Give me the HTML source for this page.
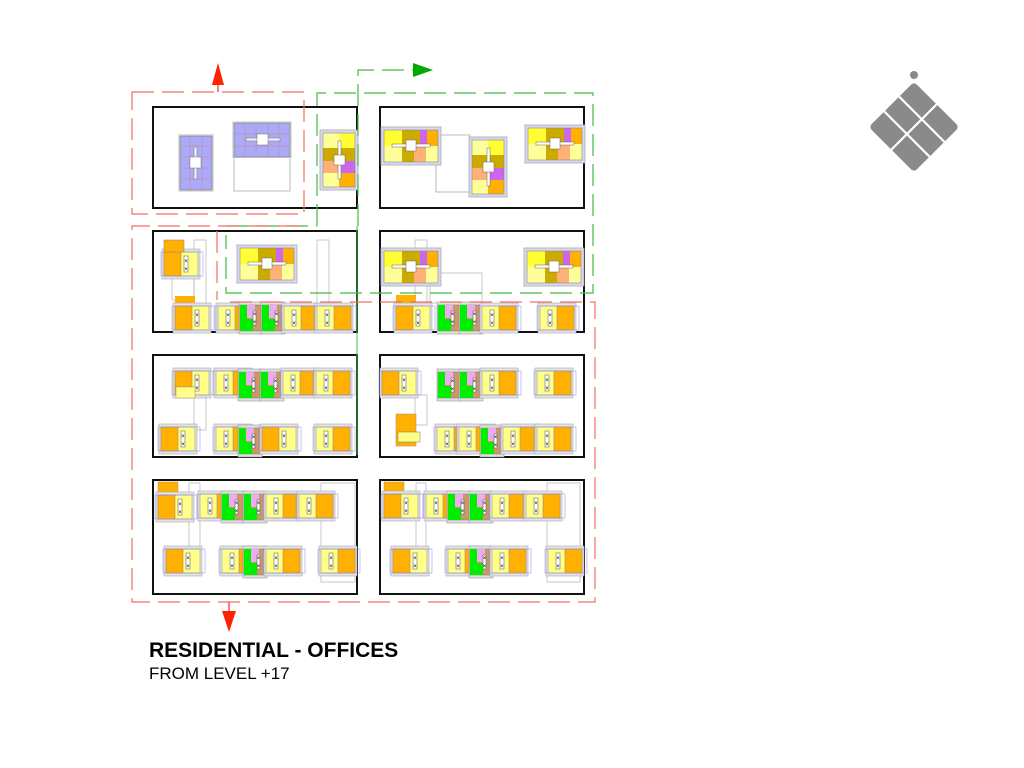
<!DOCTYPE html>
<html><head><meta charset="utf-8"><style>
html,body{margin:0;padding:0;background:#fff;}
svg{display:block}
</style></head><body>
<svg width="1024" height="768" viewBox="0 0 1024 768" xmlns="http://www.w3.org/2000/svg">
<defs>
<g id="U">
 <rect x="-2" y="-3" width="38" height="30" fill="#e4e4e4" stroke="#aaa" stroke-width="0.6"/>
 <rect x="0" y="0" width="34" height="24" fill="#ffff88" stroke="#99a" stroke-width="0.6"/>
 <rect x="0" y="0" width="17" height="24" fill="#ffb000" stroke="#a87" stroke-width="0.6"/>
 <rect x="20" y="4" width="4" height="16" fill="#fff" stroke="#555" stroke-width="0.5"/>
 <text x="22" y="11" font-size="6" font-family="Liberation Sans, sans-serif" text-anchor="middle">×</text>
 <text x="22" y="19" font-size="6" font-family="Liberation Sans, sans-serif" text-anchor="middle">×</text>
 <rect x="-3" y="0" width="42" height="24" fill="none" stroke="#8888ee" stroke-width="0.5"/>
</g>
<g id="V">
 <rect x="-2" y="-3" width="38" height="30" fill="#e4e4e4" stroke="#aaa" stroke-width="0.6"/>
 <rect x="0" y="0" width="34" height="24" fill="#ffff88" stroke="#99a" stroke-width="0.6"/>
 <rect x="17" y="0" width="17" height="24" fill="#ffb000" stroke="#a87" stroke-width="0.6"/>
 <rect x="8" y="4" width="4" height="16" fill="#fff" stroke="#555" stroke-width="0.5"/>
 <text x="10" y="11" font-size="6" font-family="Liberation Sans, sans-serif" text-anchor="middle">×</text>
 <text x="10" y="19" font-size="6" font-family="Liberation Sans, sans-serif" text-anchor="middle">×</text>
 <rect x="-3" y="0" width="42" height="24" fill="none" stroke="#8888ee" stroke-width="0.5"/>
</g>
<g id="G">
 <rect x="-1" y="-3" width="24" height="32" fill="#e0e0e0" stroke="#999" stroke-width="0.6"/>
 <rect x="0" y="0" width="22" height="26" fill="#cc9966" stroke="#777" stroke-width="0.5"/>
 <rect x="0" y="0" width="7" height="26" fill="#00ee00"/>
 <rect x="7" y="14" width="6" height="12" fill="#00ee00"/>
 <rect x="7" y="0" width="8" height="13" fill="#eeaaee"/>
 <rect x="13" y="6" width="3" height="14" fill="#fff" stroke="#555" stroke-width="0.5"/>
 <text x="14.5" y="11" font-size="6" font-family="Liberation Sans, sans-serif" text-anchor="middle">×</text>
 <text x="14.5" y="19" font-size="6" font-family="Liberation Sans, sans-serif" text-anchor="middle">×</text>
</g>
<g id="C">
 <rect x="-3" y="-3" width="60" height="38" fill="#d8d8f4" stroke="#aaa" stroke-width="0.8"/>
 <rect x="0" y="0" width="18" height="16" fill="#ffff33"/>
 <rect x="18" y="0" width="18" height="16" fill="#ccaa00"/>
 <rect x="36" y="0" width="7" height="16" fill="#cc66ee"/>
 <rect x="43" y="0" width="11" height="16" fill="#ffb000"/>
 <rect x="0" y="16" width="18" height="16" fill="#ffff99"/>
 <rect x="18" y="16" width="12" height="16" fill="#ccaa00"/>
 <rect x="30" y="16" width="12" height="16" fill="#ffb077"/>
 <rect x="42" y="16" width="12" height="16" fill="#ffff99"/>
 <rect x="0" y="0" width="54" height="32" fill="none" stroke="#888" stroke-width="0.6"/>
 <rect x="8" y="14" width="38" height="3" fill="#fff" stroke="#666" stroke-width="0.5"/>
 <rect x="22" y="10" width="10" height="11" fill="#fff" stroke="#666" stroke-width="0.5"/>
</g>
<g id="CV">
 <rect x="-3" y="-3" width="38" height="60" fill="#d8d8f4" stroke="#aaa" stroke-width="0.8"/>
 <rect x="0" y="0" width="16" height="15" fill="#ffff99"/>
 <rect x="16" y="0" width="16" height="15" fill="#ffff33"/>
 <rect x="0" y="15" width="32" height="13" fill="#ccaa00"/>
 <rect x="0" y="28" width="16" height="12" fill="#ffb077"/>
 <rect x="16" y="28" width="16" height="12" fill="#cc66ee"/>
 <rect x="0" y="40" width="16" height="14" fill="#ffff99"/>
 <rect x="16" y="40" width="16" height="14" fill="#ffb000"/>
 <rect x="0" y="0" width="32" height="54" fill="none" stroke="#888" stroke-width="0.6"/>
 <rect x="15" y="8" width="3" height="38" fill="#fff" stroke="#666" stroke-width="0.5"/>
 <rect x="11" y="22" width="11" height="10" fill="#fff" stroke="#666" stroke-width="0.5"/>
</g>
</defs>

<g fill="#fff" stroke="#111" stroke-width="2">
<rect x="153" y="107" width="204" height="101"/>
<rect x="380" y="107" width="204" height="101"/>
<rect x="153" y="231" width="204" height="101"/>
<rect x="380" y="231" width="204" height="101"/>
<rect x="153" y="355" width="204" height="102"/>
<rect x="380" y="355" width="204" height="102"/>
<rect x="153" y="480" width="204" height="114"/>
<rect x="380" y="480" width="204" height="114"/>
</g>

<rect x="178" y="134" width="36" height="58" fill="#e0e0e0"/>
<rect x="180" y="136" width="32" height="54" fill="#aaaaf8" stroke="#888" stroke-width="0.8"/>
<g stroke="#d77" stroke-width="0.4"><line x1="180" y1="146" x2="212" y2="146"/><line x1="180" y1="157" x2="212" y2="157"/><line x1="180" y1="168" x2="212" y2="168"/><line x1="180" y1="179" x2="212" y2="179"/><line x1="190" y1="136" x2="190" y2="190"/><line x1="202" y1="136" x2="202" y2="190"/></g>
<rect x="194" y="147" width="3" height="32" fill="#eee" stroke="#777" stroke-width="0.5"/>
<rect x="190" y="157" width="11" height="11" fill="#fff" stroke="#777" stroke-width="0.5"/>
<rect x="234" y="157" width="56" height="34" fill="#fff" stroke="#aaa" stroke-width="0.8"/>
<rect x="232" y="121" width="60" height="37" fill="#e0e0e0"/>
<rect x="234" y="123" width="56" height="34" fill="#aaaaf8" stroke="#888" stroke-width="0.8"/>
<g stroke="#d77" stroke-width="0.4"><line x1="234" y1="134" x2="290" y2="134"/><line x1="234" y1="146" x2="290" y2="146"/><line x1="245" y1="123" x2="245" y2="157"/><line x1="256" y1="123" x2="256" y2="157"/><line x1="268" y1="123" x2="268" y2="157"/><line x1="279" y1="123" x2="279" y2="157"/></g>
<rect x="246" y="138" width="34" height="3" fill="#eee" stroke="#777" stroke-width="0.5"/>
<rect x="257" y="134" width="11" height="11" fill="#fff" stroke="#777" stroke-width="0.5"/>
<use href="#CV" x="323" y="133"/>

<rect x="436" y="135" width="34" height="57" fill="none" stroke="#aaa" stroke-width="0.8"/>
<use href="#C" x="384" y="130"/>
<use href="#CV" x="472" y="140"/>
<use href="#C" x="528" y="128"/>

<rect x="194" y="240" width="12" height="66" fill="#fff" stroke="#bbb" stroke-width="0.8"/>
<rect x="317" y="240" width="12" height="66" fill="#fff" stroke="#bbb" stroke-width="0.8"/>
<rect x="172" y="274" width="22" height="26" fill="none" stroke="#aab" stroke-width="0.6"/>
<use href="#C" x="240" y="248"/>
<use href="#U" x="164" y="252"/>
<rect x="164" y="240" width="20" height="12" fill="#ffb000" stroke="#a87" stroke-width="0.6"/>
<rect x="175" y="296" width="20" height="10" fill="#ffb000"/>
<use href="#U" x="175" y="306"/>
<use href="#V" x="218" y="306"/>
<use href="#G" x="240" y="305"/>
<use href="#G" x="262" y="305"/>
<use href="#V" x="284" y="306"/>
<use href="#V" x="317" y="306"/>

<rect x="415" y="240" width="12" height="80" fill="#fff" stroke="#bbb" stroke-width="0.8"/>
<rect x="430" y="273" width="52" height="30" fill="none" stroke="#bbb" stroke-width="0.8"/>
<use href="#C" x="384" y="251"/>
<use href="#C" x="527" y="251"/>
<rect x="396" y="295" width="20" height="12" fill="#ffb000"/>
<use href="#U" x="396" y="306"/>
<use href="#G" x="438" y="305"/>
<use href="#G" x="460" y="305"/>
<use href="#V" x="482" y="306"/>
<use href="#V" x="540" y="306"/>

<rect x="194" y="395" width="12" height="35" fill="#fff" stroke="#bbb" stroke-width="0.8"/>
<use href="#U" x="175" y="371"/>
<rect x="176" y="387" width="19" height="11" fill="#ffff88" stroke="#a87" stroke-width="0.5"/>
<use href="#V" x="216" y="371"/>
<use href="#G" x="239" y="372"/>
<use href="#G" x="261" y="372"/>
<use href="#V" x="283" y="371"/>
<use href="#V" x="316" y="371"/>
<use href="#U" x="161" y="427"/>
<use href="#V" x="216" y="427"/>
<use href="#G" x="239" y="428"/>
<use href="#U" x="262" y="427"/>
<use href="#V" x="316" y="427"/>

<rect x="415" y="395" width="12" height="30" fill="#fff" stroke="#bbb" stroke-width="0.8"/>
<use href="#U" x="382" y="371"/>
<use href="#G" x="438" y="372"/>
<use href="#G" x="460" y="372"/>
<use href="#V" x="482" y="371"/>
<use href="#V" x="537" y="371"/>
<rect x="396" y="414" width="20" height="32" fill="#ffb000" stroke="#a87" stroke-width="0.5"/>
<rect x="398" y="432" width="22" height="10" fill="#ffff88" stroke="#777" stroke-width="0.5"/>
<use href="#V" x="437" y="427"/>
<use href="#V" x="459" y="427"/>
<use href="#G" x="481" y="428"/>
<use href="#V" x="503" y="427"/>
<use href="#V" x="537" y="427"/>

<rect x="189" y="483" width="11" height="88" fill="#fff" stroke="#bbb" stroke-width="0.8"/>
<rect x="321" y="483" width="34" height="99" fill="#fff" stroke="#bbb" stroke-width="0.8"/>
<rect x="158" y="482" width="20" height="34" fill="#ffb000" stroke="#a87" stroke-width="0.5"/>
<use href="#U" x="158" y="495"/>
<use href="#V" x="200" y="494"/>
<use href="#G" x="222" y="494"/>
<use href="#G" x="244" y="494"/>
<use href="#V" x="266" y="494"/>
<use href="#V" x="299" y="494"/>
<use href="#U" x="166" y="549"/>
<use href="#V" x="222" y="549"/>
<use href="#G" x="244" y="549"/>
<use href="#V" x="266" y="549"/>
<use href="#V" x="321" y="549"/>

<rect x="416" y="483" width="10" height="92" fill="#fff" stroke="#bbb" stroke-width="0.8"/>
<rect x="547" y="483" width="33" height="99" fill="#fff" stroke="#bbb" stroke-width="0.8"/>
<rect x="384" y="482" width="20" height="34" fill="#ffb000" stroke="#a87" stroke-width="0.5"/>
<use href="#U" x="384" y="494"/>
<use href="#V" x="426" y="494"/>
<use href="#G" x="448" y="494"/>
<use href="#G" x="470" y="494"/>
<use href="#V" x="492" y="494"/>
<use href="#V" x="526" y="494"/>
<use href="#U" x="393" y="549"/>
<use href="#V" x="448" y="549"/>
<use href="#G" x="470" y="549"/>
<use href="#V" x="492" y="549"/>
<use href="#V" x="548" y="549"/>

<g fill="none" stroke="#44bb44" stroke-width="1.2" stroke-dasharray="22,8">
<path d="M358,226 V70 H415"/>
<path d="M317,226 V93 H593 V293 H226 V235"/>
<path d="M226,226 H317"/>
</g>
<line x1="357" y1="226" x2="357" y2="455" stroke="#44bb44" stroke-width="1"/>
<polygon points="413,63 433,70 413,77" fill="#00aa00"/>

<g fill="none" stroke="#f07060" stroke-width="1.2" stroke-dasharray="22,8">
<path d="M132,92 H304 V214 H132 Z"/>
<path d="M300,226 H132 V602 H595 V302 H225"/>
<path d="M217,231 V300"/>
</g>
<line x1="218" y1="92" x2="218" y2="80" stroke="#f03020" stroke-width="1.2"/>
<polygon points="212,85 218,63 224,85" fill="#ff2200"/>
<line x1="229" y1="602" x2="229" y2="612" stroke="#f03020" stroke-width="1.2"/>
<polygon points="222,611 236,611 229,632" fill="#ff2200"/>

<circle cx="914" cy="75" r="4" fill="#8a8a8a"/>
<g transform="translate(914,127) rotate(45)">
 <rect x="-32" y="-32" width="64" height="64" rx="4" fill="#8a8a8a"/>
 <g stroke="#fff" stroke-width="2.2">
  <line x1="-32" y1="-11" x2="32" y2="-11"/>
  <line x1="-32" y1="10" x2="32" y2="10"/>
  <line x1="0" y1="-32" x2="0" y2="32"/>
 </g>
</g>

<text x="149" y="657" font-family="Liberation Sans, sans-serif" font-weight="bold" font-size="21">RESIDENTIAL - OFFICES</text>
<text x="149" y="679" font-family="Liberation Sans, sans-serif" font-size="17">FROM LEVEL +17</text>
</svg>
</body></html>
